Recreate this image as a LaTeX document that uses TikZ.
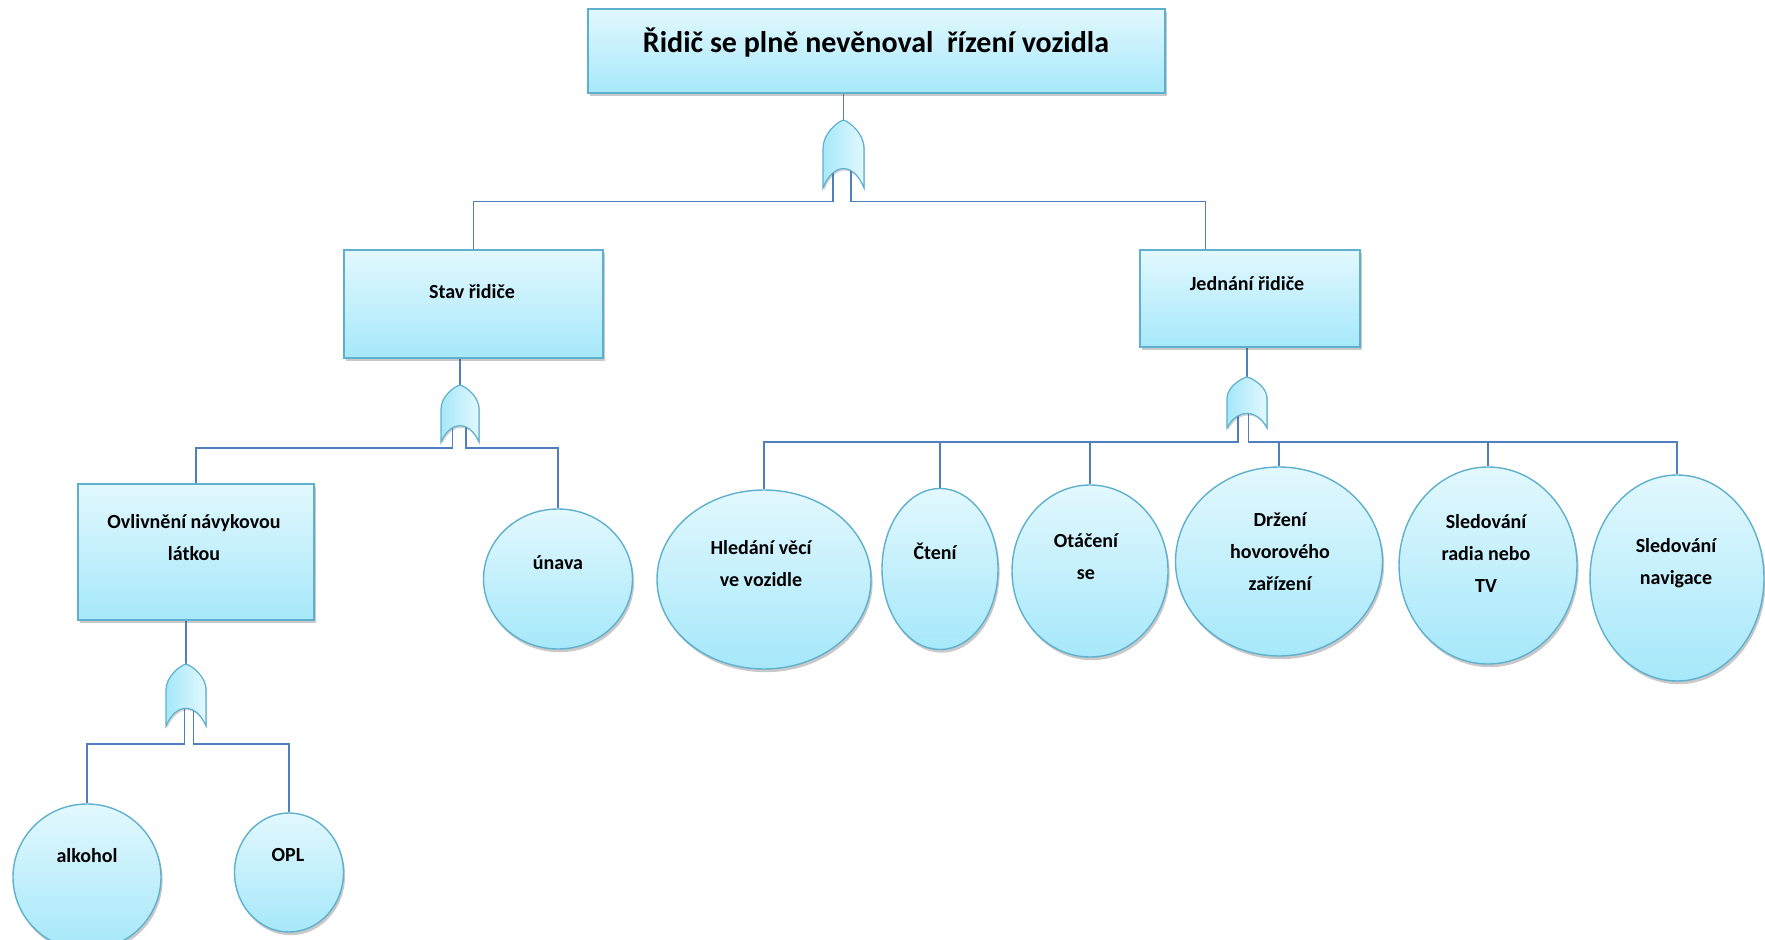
\documentclass[tikz,border=0pt]{standalone}
\usepackage{fontspec}
\setmainfont{Carlito}
\usetikzlibrary{shapes.geometric,shadows}
\definecolor{fillTop}{HTML}{E2F8FE}
\definecolor{fillBot}{HTML}{A6E8FA}
\definecolor{edgeC}{HTML}{5EB0CE}
\definecolor{wireC}{HTML}{4F7FC0}
\pgfdeclarelayer{bg}
\pgfsetlayers{bg,main}

\tikzset{
  wire/.style={draw=wireC, line width=0.8pt},
  shadowed/.style={drop shadow={shadow xshift=0.8pt, shadow yshift=-1.6pt, opacity=0.3, fill=black!70}},
  event/.style={rectangle, draw=edgeC, line width=0.7pt, top color=fillTop, bottom color=fillBot, shadowed, inner sep=0pt},
  basic/.style={ellipse, draw=edgeC, line width=0.7pt, top color=fillTop, bottom color=fillBot, shadowed, inner sep=0pt},
  sz/.style 2 args={minimum width=0.5pt*#1, minimum height=0.5pt*#2},
  lbl/.style={font=\fontsize{10}{16}\selectfont\bfseries, align=center, inner sep=0pt},
  ttl/.style={font=\fontsize{15}{18}\selectfont\bfseries, inner sep=0pt},
  pics/orgate/.style n args={4}{code={
    \path[draw=edgeC, line width=0.6pt, left color=fillBot, right color=fillTop,
          drop shadow={shadow xshift=0.6pt, shadow yshift=-1pt, opacity=0.25, fill=black!70}]
      (-#1/2,#2) -- (-#1/2,0.42*#2)
      .. controls (-#1/2,0.2*#2) and (-0.16*#1,0.03*#2) .. (0,0)
      .. controls (0.16*#1,0.03*#2) and (#1/2,0.2*#2) .. (#1/2,0.42*#2)
      -- (#1/2,#2)
      .. controls (0.25*#1,0.62*#2) and (-0.25*#1,0.62*#2) .. cycle;
    \coordinate (-top) at (0,0);
    \coordinate (-l) at (#3,0.7*#2);
    \coordinate (-r) at (#4,0.7*#2);
  }},
}

\begin{document}
\begin{tikzpicture}[x=0.5pt, y=-0.5pt]
\useasboundingbox (0,0) rectangle (1765,940);

% events (rectangles)
\node[event, sz={577}{84}] (top) at (876.5,51) {};
\node[ttl] (topT) at (876,43) {Řidič se plně nevěnoval~ řízení vozidla};
\node[event, sz={259}{108}] (stav) at (473.5,304) {};
\node[lbl] (stavT) at (472,292) {Stav řidiče};
\node[event, sz={220}{97}] (jed) at (1250,298.5) {};
\node[lbl] (jedT) at (1247,284) {Jednání řidiče};
\node[event, sz={236}{136}] (ovl) at (196,552) {};
\node[lbl] (ovlT) at (194,537.5) {Ovlivnění návykovou\\látkou};

% basic events (ellipses)
\node[basic, sz={149}{140}] (unava) at (558,579) {};
\node[lbl] (unavaT) at (558,563) {únava};
\node[basic, sz={214}{179}] (hled) at (764,579.5) {};
\node[lbl] (hledT) at (761,564) {Hledání věcí\\ve vozidle};
\node[basic, sz={116}{161}] (cteni) at (940,569) {};
\node[lbl] (cteniT) at (935,551.5) {Čtení};
\node[basic, sz={156}{172}] (otac) at (1090,571) {};
\node[lbl] (otacT) at (1086,556.5) {Otáčení\\se};
\node[basic, sz={207}{189}] (drz) at (1279,561.5) {};
\node[lbl] (drzT) at (1280,552) {Držení\\hovorového\\zařízení};
\node[basic, sz={178}{197}] (radio) at (1488,565.5) {};
\node[lbl] (radioT) at (1486,553) {Sledování\\radia nebo\\TV};
\node[basic, sz={174}{206}] (navig) at (1677,578) {};
\node[lbl] (navigT) at (1676,563.5) {Sledování\\navigace};
\node[basic, sz={148}{146}] (alko) at (87,877) {};
\node[lbl] (alkoT) at (87,855.5) {alkohol};
\node[basic, sz={109}{119}] (opl) at (289,872.5) {};
\node[lbl] (oplT) at (288,855.5) {OPL};

% OR gates
\pic (g1) at (843.5,120) {orgate={41}{68}{-10.5}{7.5}};
\pic (g2) at (460,385) {orgate={38}{57}{-7.5}{6}};
\pic (g3) at (1247,377) {orgate={40}{51}{-9}{1.5}};
\pic (g4) at (186,664) {orgate={40}{62}{-1.5}{7.5}};

% bus levels and drop points
\coordinate (b1) at (0,201.5);
\coordinate (b2) at (0,448);
\coordinate (b3) at (0,442);
\coordinate (b4) at (0,744);
\coordinate (jd) at (1205.5,0);

\begin{pgfonlayer}{bg}
\draw[wire] (top.south -| g1-top) -- (g1-top);
\draw[wire] (g1-l) |- (b1 -| stav.north) -- (stav.north);
\draw[wire] (g1-r) |- (b1 -| jd) -- (jed.north -| jd);

\draw[wire] (stav.south -| g2-top) -- (g2-top);
\draw[wire] (g2-l) |- (b2 -| ovl.north) -- (ovl.north);
\draw[wire] (g2-r) |- (b2 -| unava.north) -- (unava.north);

\draw[wire] (ovl.south -| g4-top) -- (g4-top);
\draw[wire] (g4-l) |- (b4 -| alko.north) -- (alko.north);
\draw[wire] (g4-r) |- (b4 -| opl.north) -- (opl.north);

\draw[wire] (jed.south -| g3-top) -- (g3-top);
\draw[wire] (g3-l) |- (b3 -| hled.north) -- (hled.north);
\draw[wire] (g3-r) |- (b3 -| navig.north) -- (navig.north);
\foreach \n in {cteni,otac,drz,radio}
  \draw[wire] (b3 -| \n.north) -- (\n.north);
\end{pgfonlayer}
\end{tikzpicture}
\end{document}
